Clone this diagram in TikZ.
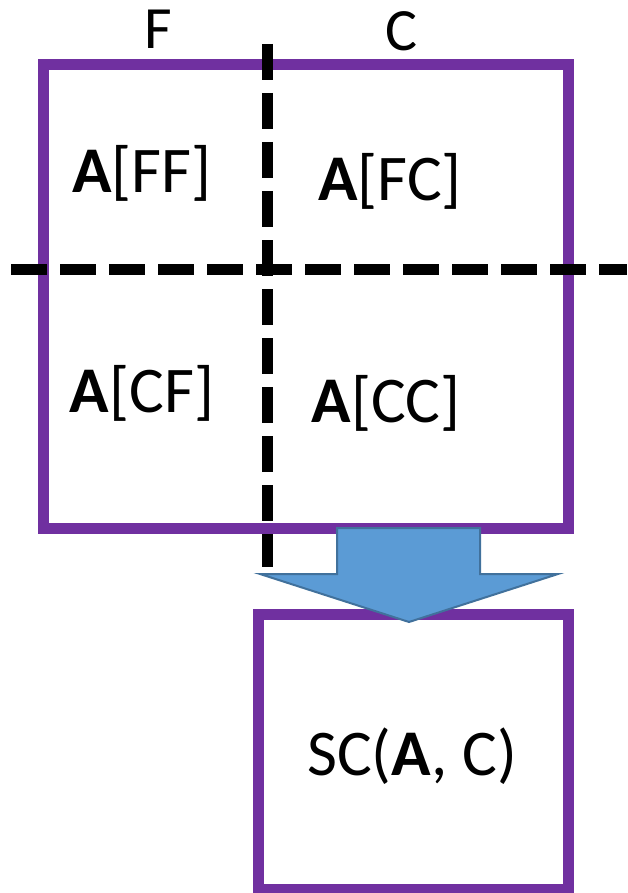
\documentclass[tikz,border=0pt]{standalone}
\usepackage{fontspec}
\setmainfont{Carlito}
\usepackage{tikz}
\usetikzlibrary{positioning,calc}

\definecolor{panelpurple}{RGB}{112,48,160}
\definecolor{arrowblue}{RGB}{91,155,213}
\definecolor{arrowedge}{RGB}{65,113,156}

\begin{document}
\begin{tikzpicture}[
  x=0.5pt, y=-0.5pt,
  panel/.style={draw=panelpurple, line width=5.5pt, inner sep=0pt},
  cut/.style={draw=black, line width=5.5pt, dash pattern=on 18pt off 6.5pt},
  lbl/.style={anchor=base, inner sep=0pt, font=\fontsize{32.6}{38}\selectfont},
  hdr/.style={anchor=base, inner sep=0pt, font=\fontsize{30}{36}\selectfont},
  blockarr/.style={fill=arrowblue, draw=arrowedge, line width=1pt, line join=miter}
]
\useasboundingbox (0,0) rectangle (627,893);

\node[panel, minimum width=262.5pt, minimum height=231.5pt] (big) at (305.5,296.5) {};
\node[panel, minimum width=155pt, minimum height=137.75pt] (small) at (413,751.75) {};

\node[hdr] (colF) at (158,49) {F};
\node[hdr] (colC) at (401,51) {C};

\node[lbl] (ff) at (142,192) {\textbf{A}[FF]};
\node[lbl] (fc) at (390,200) {\textbf{A}[FC]};
\node[lbl] (cf) at (142,412) {\textbf{A}[CF]};
\node[lbl] (cc) at (386,422) {\textbf{A}[CC]};
\node[lbl] (sc) at (412,775) {SC(\textbf{A}, C)};

% partition lines
\draw[cut] (267,44) -- (267,567);
\draw[cut] (11,269) -- (627,269);

% block arrow
\coordinate (tip) at (409,622);
\draw[blockarr] (337,528) -- (480,528) -- (480,574) -- (558,574) -- (tip)
  -- (260,574) -- (337,574) -- cycle;

\end{tikzpicture}
\end{document}
